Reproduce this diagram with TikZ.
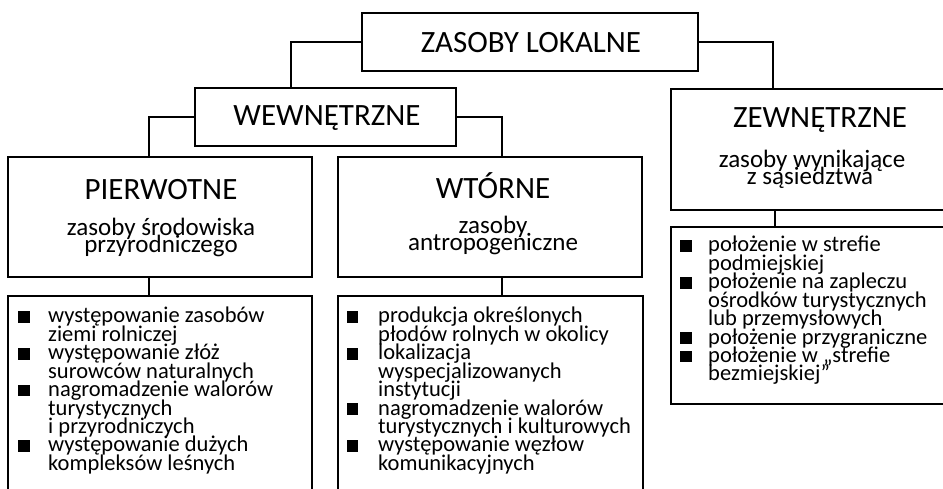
\documentclass[tikz,border=0pt]{standalone}
\usepackage{fontspec}
\setmainfont{Carlito}
\begin{document}
\begin{tikzpicture}[x=1pt,y=-1pt,
  box/.style={draw, line width=2.5pt, inner sep=0pt, outer sep=0pt, anchor=north west},
  conn/.style={draw, line width=2.5pt},
  head/.style={inner sep=0pt, anchor=base, font=\fontsize{31}{31}\selectfont},
  sub/.style={inner sep=0pt, anchor=base, text height=16pt, text depth=0pt, font=\fontsize{25}{25}\selectfont},
  item/.style={inner sep=0pt, anchor=base west, text height=15.5pt, text depth=0pt, font=\fontsize{22.5}{22.5}\selectfont},
  bul/.style={fill=black, inner sep=0pt, outer sep=0pt, minimum size=11.5pt}]
\useasboundingbox (0,0) rectangle (943,489);
\clip (0,0) rectangle (943,489);

% boxes
\node[box, minimum width=336pt, minimum height=58pt] (top) at (362,13) {};
\node[box, minimum width=261pt, minimum height=58pt] (wew) at (195,88) {};
\node[box, minimum width=298pt, minimum height=121pt] (zew) at (671,89) {};
\node[box, minimum width=304pt, minimum height=120pt] (pier) at (8,157) {};
\node[box, minimum width=304pt, minimum height=120pt] (wto) at (338,157) {};
\node[box, minimum width=304pt, minimum height=240pt] (lst1) at (8,296) {};
\node[box, minimum width=305pt, minimum height=240pt] (lst2) at (338,296) {};
\node[box, minimum width=298pt, minimum height=177pt] (lst3) at (671,227) {};

% connectors
\draw[conn] (top.west) -| ([xshift=-34.5pt]wew.north);
\draw[conn] (top.east) -| ([xshift=-47pt]zew.north);
\draw[conn] (wew.west) -| ([xshift=-11pt]pier.north);
\draw[conn] (wew.east) -| ([xshift=12pt]wto.north);
\draw[conn] ([xshift=-11pt]pier.south) -- ([xshift=-11pt]lst1.north);
\draw[conn] ([xshift=12pt]wto.south) -- ([xshift=11.5pt]lst2.north);
\draw[conn] ([xshift=-45pt]zew.south) -- ([xshift=-45pt]lst3.north);

% headings
\node[head] (ttop) at (531,53) {ZASOBY LOKALNE};
\node[head] (twew) at (327,126) {WEWNĘTRZNE};
\node[head] (tzew) at (820,128) {ZEWNĘTRZNE};
\node[head] (tpier) at (161,200) {PIERWOTNE};
\node[head] (twto) at (493,199) {WTÓRNE};

% subtexts
\node[sub] (spier1) at (161,236) {zasoby środowiska};
\node[sub] (spier2) at (161,253) {przyrodniczego};
\node[sub] (swto1) at (493,234) {zasoby};
\node[sub] (swto2) at (493,251) {antropogeniczne};
\node[sub] (szew1) at (812,168) {zasoby wynikające};
\node[sub] (szew2) at (810,185) {z sąsiedztwa};

% list 1
\foreach \t [count=\i from 0] in {występowanie zasobów, ziemi rolniczej, występowanie złóż, surowców naturalnych, nagromadzenie walorów, turystycznych, i przyrodniczych, występowanie dużych, kompleksów leśnych}
  \node[item] (la-\i) at (48,323+18.4*\i) {\t};
\foreach \i in {0,2,4,7}
  \node[bul] (ba-\i) at (24,323+18.4*\i-6) {};

% list 2
\foreach \t [count=\i from 0] in {produkcja określonych, płodów rolnych w okolicy, lokalizacja, wyspecjalizowanych, instytucji, nagromadzenie walorów, turystycznych i kulturowych, występowanie węzłow, komunikacyjnych}
  \node[item] (lb-\i) at (378,323+18.4*\i) {\t};
\foreach \i in {0,2,5,7}
  \node[bul] (bb-\i) at (352.5,323+18.4*\i-6) {};

% list 3
\foreach \t [count=\i from 0] in {położenie w strefie, podmiejskiej, położenie na zapleczu, ośrodków turystycznych, lub przemysłowych, położenie przygraniczne, położenie w „strefie, bezmiejskiej”}
  \node[item] (lc-\i) at (708,252+18.4*\i) {\t};
\foreach \i in {0,2,5,6}
  \node[bul] (bc-\i) at (686,252+18.4*\i-6) {};
\end{tikzpicture}
\end{document}
